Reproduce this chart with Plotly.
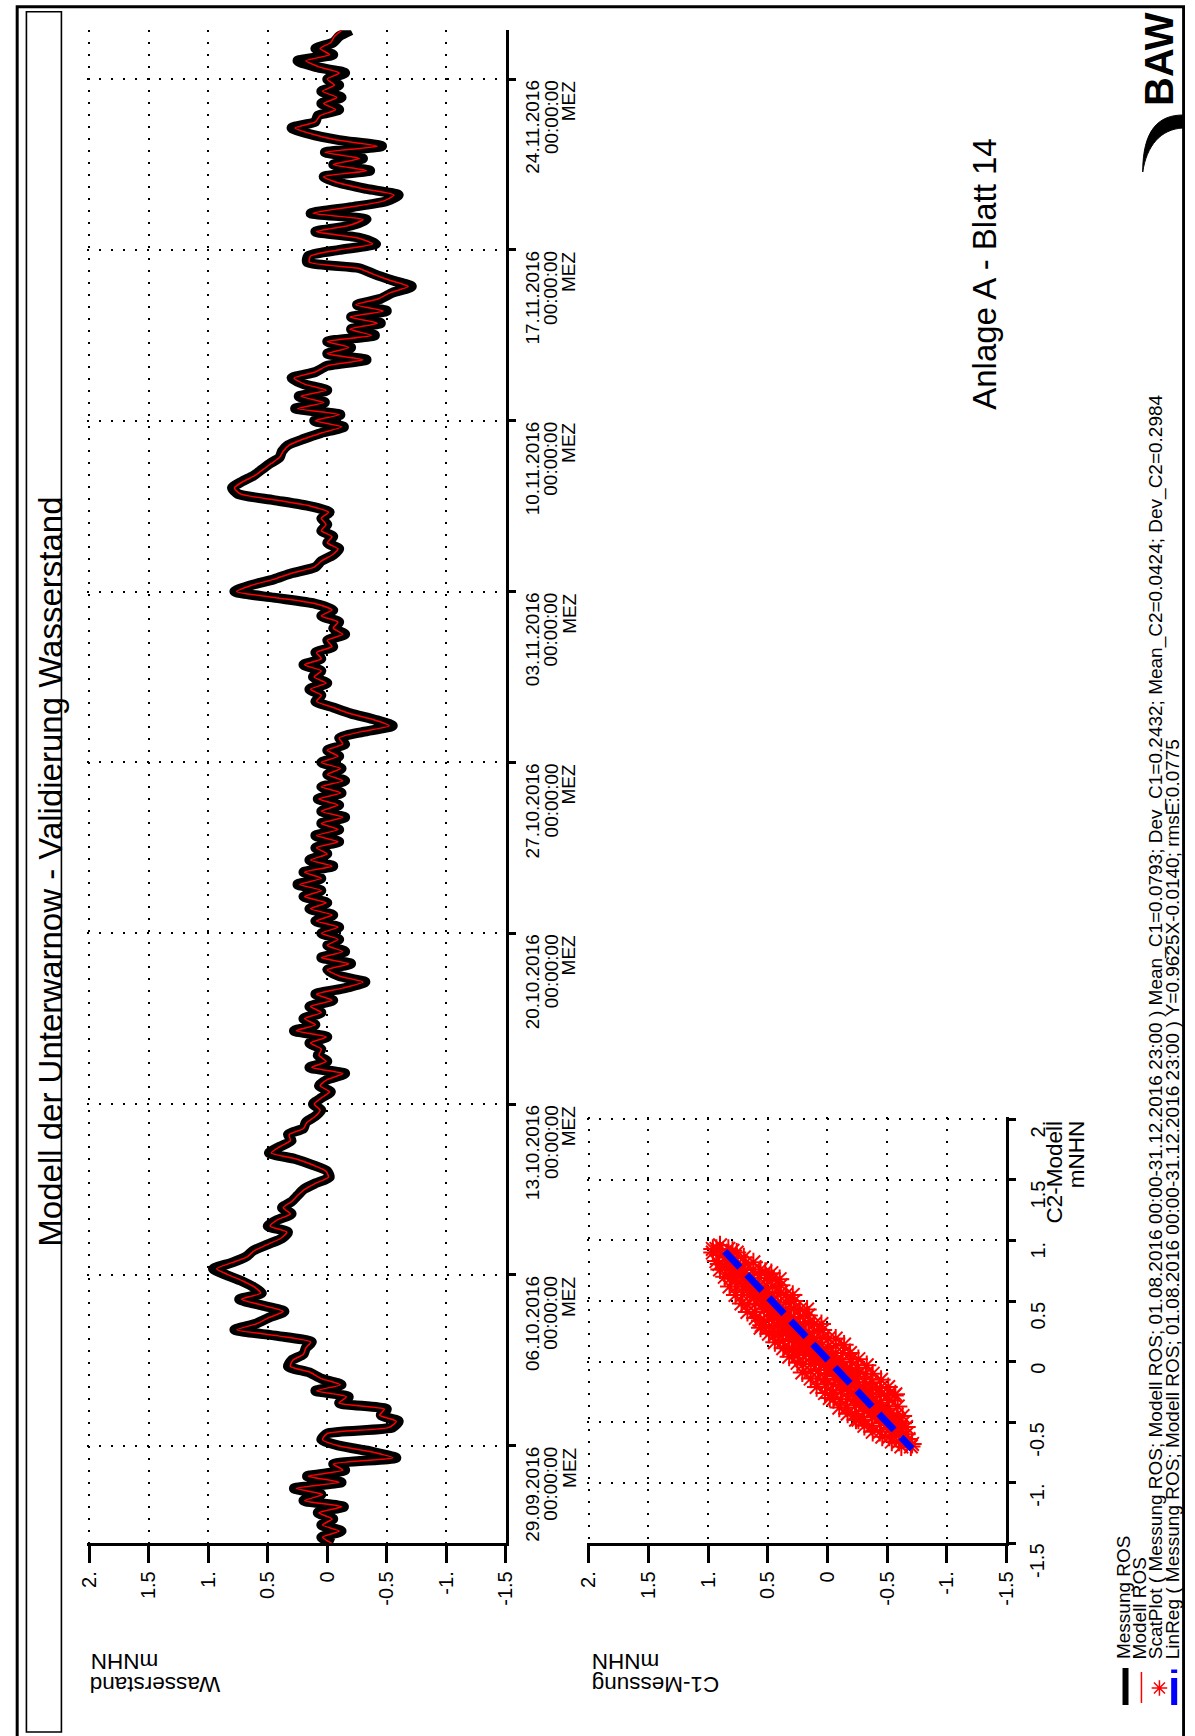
import plotly.graph_objects as go
import pandas as pd

W, H = 1195, 1736
FONT = "Liberation Sans, Arial, Helvetica, sans-serif"

# ---------------- data ----------------
time_start = "2016-09-25 00:00"
time_end = "2016-11-26 00:00"
step = "6h"

# Wasserstand (mNHN), 6-hourly, from 25.09.2016 00:00
messung_ros = [
    -0.05, 0.05, -0.12, 0.05,   -0.05, 0.08, -0.14, 0.20,   0.05, 0.28, -0.12, 0.17,
    -0.15, -0.05, -0.58, -0.38,  -0.10, 0.05, 0.00, -0.55,   -0.60, -0.45, -0.50, -0.10,
    -0.18, 0.10, -0.12, 0.05,   0.15, 0.33, 0.30, 0.20,     0.18, 0.13, 0.42, 0.78,
    0.60, 0.49, 0.36, 0.55,     0.74, 0.55, 0.62, 0.72,     0.85, 0.96, 0.80, 0.68,
    0.62, 0.50, 0.38, 0.33,     0.50, 0.42, 0.30, 0.38,     0.30, 0.25, 0.20, 0.10,
    -0.02, 0.00, 0.12, 0.27,    0.49, 0.40, 0.30, 0.33,     0.20, 0.18, 0.10, 0.05,
    0.12, 0.05, -0.03, 0.07,    0.00, -0.15, 0.15, 0.00,    0.08, 0.05, 0.15, 0.00,
    0.28, 0.10, 0.20, 0.05,     0.15, -0.05, 0.10, -0.15,   -0.32, -0.10, 0.00, -0.20,
    0.05, -0.15, 0.00, -0.10,   0.05, -0.10, 0.10, -0.05,   0.15, 0.00, 0.20, 0.05,
    0.25, 0.05, 0.20, -0.05,    0.15, 0.00, 0.10, -0.10,    0.10, -0.10, 0.05, -0.15,
    0.05, -0.10, 0.08, -0.12,   0.05, -0.15, 0.00, -0.12,   0.05, -0.10, 0.00, -0.15,
    -0.10, -0.30, -0.55, -0.40, -0.20, -0.05, 0.10, 0.05,   0.15, 0.00, 0.12, 0.05,
    0.20, 0.05, 0.10, -0.05,    0.00, -0.15, -0.05, -0.10,  0.05, -0.05, 0.10, 0.45,
    0.78, 0.65, 0.45, 0.30,     0.10, 0.05, -0.05, -0.10,   0.00, -0.05, 0.05, 0.00,
    0.05, -0.02, 0.15, 0.45,    0.75, 0.80, 0.72, 0.62,     0.55, 0.48, 0.40, 0.38,
    0.33, 0.20, 0.05, -0.14,    0.11, -0.11, 0.27, 0.02,    0.24, 0.00, 0.20, 0.30,
    0.10, 0.00, -0.33, 0.00,    -0.20, 0.00, -0.40, -0.20,  -0.45, -0.20, -0.50, -0.25,
    -0.45, -0.55, -0.71, -0.55, -0.40, -0.27, 0.17, 0.16,   -0.10, -0.41, -0.27, 0.10,
    -0.20, -0.33, 0.14, -0.20,  -0.50, -0.60, -0.33, -0.10, 0.03, -0.36, -0.05, -0.30,
    0.02, -0.46, -0.10, 0.15,   0.30, 0.10, 0.08, -0.10,    0.05, -0.12, 0.05, -0.10,
    0.00, -0.15, 0.10, 0.25,    -0.05, 0.10, -0.05, -0.10,  -0.20,
]
modell_ros = [
    -0.04, 0.04, -0.10, 0.04,   -0.04, 0.07, -0.12, 0.19,   0.04, 0.26, -0.10, 0.16,
    -0.13, -0.05, -0.55, -0.37,  -0.09, 0.04, 0.00, -0.52,   -0.58, -0.44, -0.48, -0.10,
    -0.16, 0.09, -0.11, 0.05,   0.14, 0.31, 0.29, 0.20,     0.18, 0.14, 0.41, 0.76,
    0.59, 0.49, 0.37, 0.54,     0.72, 0.56, 0.61, 0.71,     0.83, 0.93, 0.80, 0.67,
    0.61, 0.50, 0.39, 0.34,     0.48, 0.42, 0.31, 0.37,     0.30, 0.25, 0.19, 0.10,
    -0.01, 0.01, 0.12, 0.26,    0.47, 0.40, 0.31, 0.32,     0.20, 0.17, 0.10, 0.06,
    0.11, 0.05, -0.02, 0.06,    0.00, -0.13, 0.13, 0.01,    0.07, 0.05, 0.14, 0.01,
    0.26, 0.10, 0.19, 0.05,     0.14, -0.04, 0.09, -0.13,   -0.30, -0.10, 0.00, -0.18,
    0.05, -0.13, 0.00, -0.09,   0.05, -0.09, 0.09, -0.04,   0.14, 0.01, 0.19, 0.05,
    0.23, 0.05, 0.19, -0.04,    0.14, 0.00, 0.09, -0.09,    0.09, -0.09, 0.05, -0.13,
    0.05, -0.09, 0.07, -0.11,   0.05, -0.13, 0.00, -0.11,   0.05, -0.09, 0.00, -0.13,
    -0.10, -0.28, -0.52, -0.39, -0.19, -0.05, 0.09, 0.05,   0.14, 0.01, 0.11, 0.05,
    0.19, 0.05, 0.09, -0.04,    0.00, -0.13, -0.05, -0.09,  0.05, -0.04, 0.10, 0.43,
    0.76, 0.64, 0.45, 0.30,     0.11, 0.05, -0.04, -0.09,   0.00, -0.04, 0.05, 0.01,
    0.05, -0.01, 0.14, 0.43,    0.73, 0.78, 0.71, 0.61,     0.54, 0.47, 0.40, 0.37,
    0.32, 0.20, 0.05, -0.12,    0.10, -0.10, 0.25, 0.03,    0.22, 0.01, 0.19, 0.28,
    0.10, 0.00, -0.30, 0.00,    -0.18, 0.00, -0.37, -0.19,  -0.42, -0.19, -0.47, -0.24,
    -0.43, -0.53, -0.68, -0.53, -0.39, -0.26, 0.15, 0.14,   -0.09, -0.38, -0.25, 0.09,
    -0.18, -0.30, 0.12, -0.18,  -0.47, -0.56, -0.31, -0.09, 0.03, -0.33, -0.05, -0.27,
    0.02, -0.42, -0.08, 0.13,   0.27, 0.10, 0.06, -0.07,    0.03, -0.08, 0.04, -0.06,
    0.00, -0.10, 0.07, 0.18,    -0.02, 0.06, -0.03, -0.06,  -0.12,
]

week_ticks = ["2016-09-29", "2016-10-06", "2016-10-13", "2016-10-20", "2016-10-27",
              "2016-11-03", "2016-11-10", "2016-11-17", "2016-11-24"]
week_labels = ["29.09.2016", "06.10.2016", "13.10.2016", "20.10.2016", "27.10.2016",
               "03.11.2016", "10.11.2016", "17.11.2016", "24.11.2016"]
value_ticks = [2, 1.5, 1, 0.5, 0, -0.5, -1, -1.5]
value_tick_labels = ["2.", "1.5", "1.", "0.5", "0", "-0.5", "-1.", "-1.5"]

# Scatter cloud: C1 = Messung, C2 = Modell (mNHN), 01.08.-31.12.2016
scatter_c1 = [
    0.93, 0.96, 0.90, 0.88, 0.93, 0.83, 0.90, 0.83, 0.76, 0.86, 0.805, 0.75, 0.70,
    0.82, 0.755, 0.685, 0.62, 0.77, 0.70, 0.63, 0.56, 0.72, 0.65, 0.58, 0.51, 0.47,
    0.67, 0.60, 0.53, 0.46, 0.40, 0.60, 0.53, 0.46, 0.39, 0.56, 0.49, 0.42, 0.35, 0.29,
    0.49, 0.42, 0.35, 0.28, 0.44, 0.37, 0.30, 0.23, 0.17, 0.37, 0.30, 0.23, 0.16,
    0.32, 0.25, 0.18, 0.11, 0.05, 0.25, 0.18, 0.11, 0.04, 0.21, 0.14, 0.07, 0.00, -0.07,
    0.14, 0.07, 0.00, -0.07, -0.14, 0.09, 0.02, -0.05, -0.12, -0.19,
    0.02, -0.05, -0.12, -0.19, -0.26, -0.05, -0.12, -0.19, -0.26, -0.33,
    -0.10, -0.17, -0.24, -0.31, -0.38, -0.17, -0.24, -0.31, -0.38, -0.45,
    -0.24, -0.31, -0.38, -0.45, -0.51, -0.31, -0.38, -0.45, -0.52, -0.57,
    -0.38, -0.45, -0.52, -0.59, -0.46, -0.52, -0.58, -0.63, -0.54, -0.60, -0.66,
    -0.62, -0.68, -0.70, 0.55, 0.42, 0.28, -0.02, -0.26, -0.56,
    0.905, 0.845, 0.795, 0.81, 0.75, 0.69, 0.76, 0.69, 0.62, 0.71, 0.64, 0.57, 0.52,
    0.67, 0.60, 0.53, 0.46, 0.61, 0.54, 0.46, 0.39, 0.56, 0.49, 0.415, 0.35,
    0.49, 0.42, 0.35, 0.28, 0.44, 0.37, 0.30, 0.23, 0.37, 0.30, 0.23, 0.16,
    0.32, 0.25, 0.18, 0.11, 0.25, 0.18, 0.11, 0.04, 0.20, 0.13, 0.06, -0.01,
    0.14, 0.07, 0.00, -0.07, 0.08, 0.01, -0.06, -0.13, 0.01, -0.06, -0.13, -0.20,
    -0.04, -0.11, -0.18, -0.25, -0.11, -0.18, -0.25, -0.32, -0.16, -0.23, -0.30, -0.37,
    -0.23, -0.30, -0.37, -0.44, -0.30, -0.37, -0.44, -0.50, -0.37, -0.44, -0.51,
    -0.44, -0.51, -0.58, -0.52, -0.58, -0.63, -0.60, -0.66,
]
scatter_c2 = [
    0.93, 0.90, 0.96, 0.88, 0.83, 0.93, 0.76, 0.83, 0.90, 0.70, 0.755, 0.81, 0.86,
    0.62, 0.685, 0.755, 0.82, 0.55, 0.62, 0.69, 0.76, 0.48, 0.55, 0.62, 0.69, 0.73,
    0.41, 0.48, 0.55, 0.62, 0.68, 0.36, 0.43, 0.50, 0.57, 0.28, 0.35, 0.42, 0.49, 0.55,
    0.23, 0.30, 0.37, 0.44, 0.16, 0.23, 0.30, 0.37, 0.43, 0.11, 0.18, 0.25, 0.32,
    0.04, 0.11, 0.18, 0.25, 0.31, -0.01, 0.06, 0.13, 0.20, -0.09, -0.02, 0.05, 0.12, 0.19,
    -0.14, -0.07, 0.00, 0.07, 0.14, -0.21, -0.14, -0.07, 0.00, 0.07,
    -0.26, -0.19, -0.12, -0.05, 0.02, -0.31, -0.24, -0.17, -0.10, -0.03,
    -0.38, -0.31, -0.24, -0.17, -0.10, -0.43, -0.36, -0.29, -0.22, -0.15,
    -0.48, -0.41, -0.34, -0.27, -0.21, -0.53, -0.46, -0.39, -0.32, -0.27,
    -0.58, -0.51, -0.44, -0.37, -0.62, -0.56, -0.50, -0.45, -0.66, -0.60, -0.54,
    -0.70, -0.64, -0.70, 0.30, 0.24, 0.08, -0.30, -0.48, -0.28,
    0.805, 0.865, 0.915, 0.69, 0.75, 0.81, 0.62, 0.69, 0.76, 0.55, 0.62, 0.69, 0.74,
    0.47, 0.54, 0.61, 0.68, 0.41, 0.48, 0.56, 0.63, 0.34, 0.41, 0.485, 0.55,
    0.29, 0.36, 0.43, 0.50, 0.22, 0.29, 0.36, 0.43, 0.17, 0.24, 0.31, 0.38,
    0.10, 0.17, 0.24, 0.31, 0.05, 0.12, 0.19, 0.26, -0.02, 0.05, 0.12, 0.19,
    -0.08, -0.01, 0.06, 0.13, -0.14, -0.07, 0.00, 0.07, -0.19, -0.12, -0.05, 0.02,
    -0.26, -0.19, -0.12, -0.05, -0.31, -0.24, -0.17, -0.10, -0.38, -0.31, -0.24, -0.17,
    -0.43, -0.36, -0.29, -0.22, -0.48, -0.41, -0.34, -0.28, -0.53, -0.46, -0.39,
    -0.58, -0.51, -0.44, -0.62, -0.56, -0.51, -0.66, -0.60,
]

linreg_c1 = [0.86, -0.71]
linreg_c2 = [0.91, -0.72]

legend_texts = [
    "Messung ROS",
    "Modell ROS",
    "ScatPlot ( Messung ROS; Modell ROS; 01.08.2016 00:00-31.12.2016 23:00 ) "
    "Mean_C1=0.0793; Dev_C1=0.2432; Mean_C2=0.0424; Dev_C2=0.2984",
    "LinReg ( Messung ROS; Modell ROS; 01.08.2016 00:00-31.12.2016 23:00 ) "
    "Y=0.9625X-0.0140; rmsE:0.0775",
]

# ---------------- figure ----------------
times = pd.date_range(time_start, periods=len(messung_ros), freq=step)

star = dict(symbol="asterisk-open", size=16, color="red", line=dict(color="red", width=2))

fig = go.Figure()
fig.add_trace(go.Scatter(x=messung_ros, y=times, mode="lines",
                         line=dict(color="black", width=10, shape="spline", smoothing=0.6),
                         xaxis="x", yaxis="y"))
fig.add_trace(go.Scatter(x=modell_ros, y=times, mode="lines",
                         line=dict(color="red", width=1.5, shape="spline", smoothing=0.6),
                         xaxis="x", yaxis="y"))
fig.add_trace(go.Scatter(x=scatter_c1, y=scatter_c2, mode="markers", marker=star,
                         xaxis="x2", yaxis="y2"))
fig.add_trace(go.Scatter(x=messung_ros, y=modell_ros, mode="markers", marker=star,
                         xaxis="x2", yaxis="y2"))
fig.add_trace(go.Scatter(x=linreg_c1, y=linreg_c2, mode="lines",
                         line=dict(color="blue", width=7, dash="22px,10px"),
                         xaxis="x2", yaxis="y2"))
# legend sample marker (pixel overlay axes)
fig.add_trace(go.Scatter(x=[1169], y=[1688], mode="markers",
                         marker=dict(symbol="asterisk-open", size=13, color="red",
                                     line=dict(color="red", width=1.5)),
                         xaxis="x3", yaxis="y3"))


def fx(px):
    return px / W


def fy(py):
    return 1 - py / H


PXU = 121.2          # pixels per unit of the value axes
EXT = 2 / PXU        # small extension so the grid line at 2 stays visible

axis_common = dict(showline=True, linecolor="black", linewidth=3, ticks="outside",
                   tickcolor="black", tickwidth=3, showgrid=True, gridcolor="black",
                   gridwidth=2, griddash="2px,10px", zeroline=False, fixedrange=True,
                   tickfont=dict(family=FONT, size=20, color="black"))

fig.update_layout(
    width=W, height=H, margin=dict(l=0, r=0, t=0, b=0),
    paper_bgcolor="white", plot_bgcolor="rgba(0,0,0,0)", showlegend=False,
    font=dict(family=FONT, color="black"),
    xaxis=dict(domain=[fx(78.5), fx(504.3)], range=[2 + EXT, -1.5], anchor="y",
               tickvals=value_ticks, ticktext=value_tick_labels, tickangle=-90,
               ticklen=17, **axis_common),
    yaxis=dict(domain=[fy(1543.3), fy(30.3)], type="date", range=[time_start, time_end],
               anchor="x", side="right", tickvals=week_ticks, ticklen=7,
               showticklabels=False, **axis_common),
    xaxis2=dict(domain=[fx(586.6), fx(1013.3)], range=[2 + EXT, -1.5], anchor="y2",
                tickvals=value_ticks, ticktext=value_tick_labels, tickangle=-90,
                ticklen=17, **axis_common),
    yaxis2=dict(domain=[fy(1543.3), fy(1117.3)], range=[-1.5, 2 + EXT], anchor="x2",
                side="right", tickvals=value_ticks, ticklen=7, showticklabels=False,
                **axis_common),
    xaxis3=dict(domain=[0, 1], range=[0, W], anchor="y3", visible=False, fixedrange=True),
    yaxis3=dict(domain=[0, 1], range=[H, 0], anchor="x3", visible=False, fixedrange=True),
)

anns = []


def ann(text, x, y, size, angle=-90, xanchor="center", yanchor="middle",
        xref="x3", yref="y3"):
    anns.append(dict(text=text, x=x, y=y, xref=xref, yref=yref, showarrow=False,
                     textangle=angle, xanchor=xanchor, yanchor=yanchor, borderpad=0,
                     font=dict(family=FONT, size=size, color="black")))


ann("Modell der Unterwarnow - Validierung Wasserstand", 40.3, 872, 33)
ann("Anlage A - Blatt 14", 991, 273.4, 33)
ann("<b>BAW</b>", 1168.5, 59, 40)

# axis titles (upside down)
ann("Wasserstand", 81, 1684.3, 22.5, angle=180, xanchor="left")
ann("mNHN", 81, 1660.9, 22.5, angle=180, xanchor="left")
ann("C1-Messung", 590, 1684.3, 22.5, angle=180, xanchor="left")
ann("mNHN", 590, 1660.9, 22.5, angle=180, xanchor="left")

# C2 axis labels
for v, t in zip(value_ticks, value_tick_labels):
    ann(t, 1045.1, v, 20, yanchor="top", yref="y2")
ann("C2-Modell", 1062.4, 2, 22.5, yanchor="top", yref="y2")
ann("mNHN", 1084, 2, 22.5, yanchor="top", yref="y2")

# date labels
for d, lab in zip(week_ticks, week_labels):
    ann(lab, 531.5, d, 19, yanchor="top", yref="y")
    ann("00:00:00", 550.2, d, 19, yanchor="top", yref="y")
    ann("MEZ", 568.2, d, 19, yanchor="top", yref="y")

# legend texts
for xc, t in zip([1132, 1148.6, 1165.2, 1182], legend_texts):
    ann(t, xc, 1660, 19, yanchor="bottom")

fig.update_layout(annotations=anns)

shapes = [
    dict(type="rect", x0=7.3, y0=6.7, x1=1193.6, y1=1760, line=dict(color="black", width=3)),
    dict(type="rect", x0=16.7, y0=11.7, x1=52.3, y1=1732, line=dict(color="black", width=1.6)),
    # legend samples
    dict(type="line", x0=1134.5, y0=1668, x1=1134.5, y1=1705, line=dict(color="black", width=6)),
    dict(type="line", x0=1150.7, y0=1672, x1=1150.7, y1=1703, line=dict(color="red", width=1.5)),
    dict(type="line", x0=1184, y0=1678, x1=1184, y1=1705, line=dict(color="blue", width=6)),
    dict(type="line", x0=1184, y0=1669.5, x1=1184, y1=1673, line=dict(color="blue", width=6)),
    # BAW crescent
    dict(type="path", path="M 1193,115 C 1168,115 1152,130 1152,172 C 1156,146 1170,129 1193,128 Z",
         fillcolor="black", line=dict(color="black", width=1)),
]
for s in shapes:
    s.update(xref="x3", yref="y3")
fig.update_layout(shapes=shapes)

fig.write_html("out.html", config={"displayModeBar": False},
               post_script="document.body.style.margin='0';")
